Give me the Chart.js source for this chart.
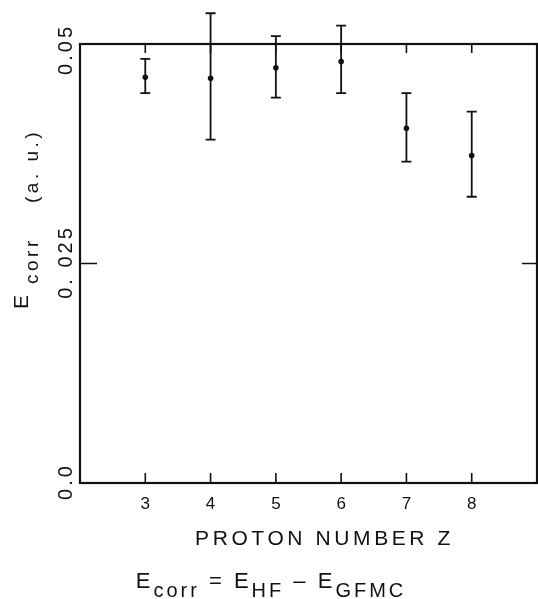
<!DOCTYPE html>
<html><head><meta charset="utf-8">
<script src="https://cdn.jsdelivr.net/npm/chart.js@4/dist/chart.umd.min.js"></script>
<style>html,body{margin:0;padding:0;background:#fff;}#wrap{width:538px;height:599px;}</style>
</head><body><div id="wrap"><canvas id="c" width="538" height="599"></canvas></div>
<script>
// ---- data ----
const protonNumbers = [3, 4, 5, 6, 7, 8];
const ecorrValues   = [0.0462, 0.0461, 0.0473, 0.0480, 0.0404, 0.0373];
const ecorrUpper    = [0.0483, 0.0535, 0.0509, 0.0521, 0.0444, 0.0423];
const ecorrLower    = [0.0444, 0.0391, 0.0439, 0.0444, 0.0366, 0.0326];
const xTickLabels   = ['3', '4', '5', '6', '7', '8'];
const yTickValues   = [0, 0.025, 0.05];
const yTickLabels   = ['0.0', '0. 025', '0.05'];
const xTitle        = 'PROTON NUMBER Z';
const yTitleMain    = 'E';
const yTitleSub     = 'corr';
const yTitleUnit    = '(a. u.)';
const formulaRuns   = [['E', 0], ['corr', 1], [' = ', 0], ['E', 0], ['HF', 1], [' \u2013 ', 0], ['E', 0], ['GFMC', 1]];

const FONT = '"Liberation Sans", Arial, sans-serif';
const INK = '#111';

const framePlugin = {
  id: 'frame',
  afterDatasetsDraw(chart) {
    const ctx = chart.ctx, xs = chart.scales.x, ys = chart.scales.y;
    ctx.save();
    ctx.strokeStyle = INK; ctx.lineWidth = 1.8; ctx.lineCap = 'butt';
    protonNumbers.forEach((z, i) => {
      const px = xs.getPixelForValue(z);
      const yt = ys.getPixelForValue(ecorrUpper[i]);
      const yb = ys.getPixelForValue(ecorrLower[i]);
      ctx.beginPath();
      ctx.moveTo(px, yt); ctx.lineTo(px, yb);
      ctx.moveTo(px - 5, yt); ctx.lineTo(px + 5, yt);
      ctx.moveTo(px - 5, yb); ctx.lineTo(px + 5, yb);
      ctx.stroke();
    });
    ctx.restore();
  },
  afterDraw(chart) {
    const ctx = chart.ctx, a = chart.chartArea, xs = chart.scales.x, ys = chart.scales.y;
    ctx.save();
    ctx.strokeStyle = INK; ctx.fillStyle = INK;
    // frame
    ctx.lineWidth = 2.2;
    ctx.strokeRect(a.left, a.top, a.right - a.left, a.bottom - a.top);
    // inward ticks
    ctx.lineWidth = 1.6;
    ctx.beginPath();
    xTickLabels.forEach(t => {
      const px = xs.getPixelForValue(Number(t));
      ctx.moveTo(px, a.bottom); ctx.lineTo(px, a.bottom - 10);
      ctx.moveTo(px, a.top); ctx.lineTo(px, a.top + 9);
    });
    yTickValues.forEach(v => {
      if (v <= ys.min || v >= ys.max) return;
      const py = ys.getPixelForValue(v);
      ctx.moveTo(a.left, py); ctx.lineTo(a.left + 17, py);
      ctx.moveTo(a.right, py); ctx.lineTo(a.right - 15, py);
    });
    ctx.stroke();

    // y tick labels (rotated, reading upwards)
    ctx.font = '20px ' + FONT;
    ctx.letterSpacing = '3px';
    ctx.textBaseline = 'alphabetic';
    ctx.textAlign = 'left';
    yTickValues.forEach((v, i) => {
      const lab = yTickLabels[i];
      const w = ctx.measureText(lab).width - 3;
      let cy = ys.getPixelForValue(v);
      let topEdge = cy - w / 2;
      if (topEdge < 27) cy += 27 - topEdge;
      ctx.save();
      ctx.translate(a.left - 8, cy + w / 2);
      ctx.rotate(-Math.PI / 2);
      ctx.fillText(lab, 0, 0);
      ctx.restore();
    });

    // y title
    ctx.save();
    ctx.translate(28, 309);
    ctx.rotate(-Math.PI / 2);
    ctx.font = '21px ' + FONT;
    ctx.letterSpacing = '2px';
    ctx.fillText(yTitleMain, 0, 0);
    ctx.font = '19px ' + FONT;
    ctx.letterSpacing = '3.5px';
    ctx.fillText(yTitleSub, 25, 10);
    ctx.fillText(yTitleUnit, 106, 10);
    ctx.restore();

    // x title
    ctx.font = '21px ' + FONT;
    ctx.letterSpacing = '3.6px';
    ctx.textAlign = 'center';
    ctx.fillText(xTitle, (a.left + a.right) / 2 + 16, 545);

    // formula
    ctx.textAlign = 'left';
    const fonts = ['22px ' + FONT, '20px ' + FONT];
    let total = 0;
    const widths = formulaRuns.map(([t, s]) => {
      ctx.font = fonts[s]; ctx.letterSpacing = '3px';
      const w = ctx.measureText(t).width; total += w; return w;
    });
    let fx = 271 - total / 2;
    formulaRuns.forEach(([t, s], i) => {
      ctx.font = fonts[s]; ctx.letterSpacing = '3px';
      ctx.fillText(t, fx, 588 + (s ? 9 : 0));
      fx += widths[i];
    });
    ctx.restore();
  }
};

new Chart(document.getElementById('c'), {
  type: 'scatter',
  data: {
    datasets: [{
      data: protonNumbers.map((z, i) => ({ x: z, y: ecorrValues[i] })),
      backgroundColor: INK, borderColor: INK,
      pointRadius: 2.8, pointHoverRadius: 2.8, borderWidth: 0
    }]
  },
  options: {
    responsive: false, animation: false, devicePixelRatio: 1,
    layout: { autoPadding: false, padding: { left: 0, top: 44, right: 1, bottom: 0 } },
    plugins: { legend: { display: false }, tooltip: { enabled: false }, title: { display: false } },
    scales: {
      x: {
        type: 'linear', min: 2, max: 9,
        grid: { display: false, drawTicks: false }, border: { display: false },
        ticks: {
          stepSize: 1, autoSkip: false, maxRotation: 0, padding: 11, color: INK,
          font: { family: FONT, size: 17 },
          callback: v => xTickLabels.includes(String(v)) ? String(v) : ''
        },
        afterFit: s => { s.height = 116; s.paddingLeft = 0; s.paddingRight = 0; }
      },
      y: {
        type: 'linear', min: 0, max: 0.05,
        grid: { display: false, drawTicks: false }, border: { display: false },
        ticks: { display: false, stepSize: 0.025 },
        afterFit: s => { s.width = 80; s.paddingTop = 0; s.paddingBottom = 0; }
      }
    }
  },
  plugins: [framePlugin]
});
</script>
</body></html>
